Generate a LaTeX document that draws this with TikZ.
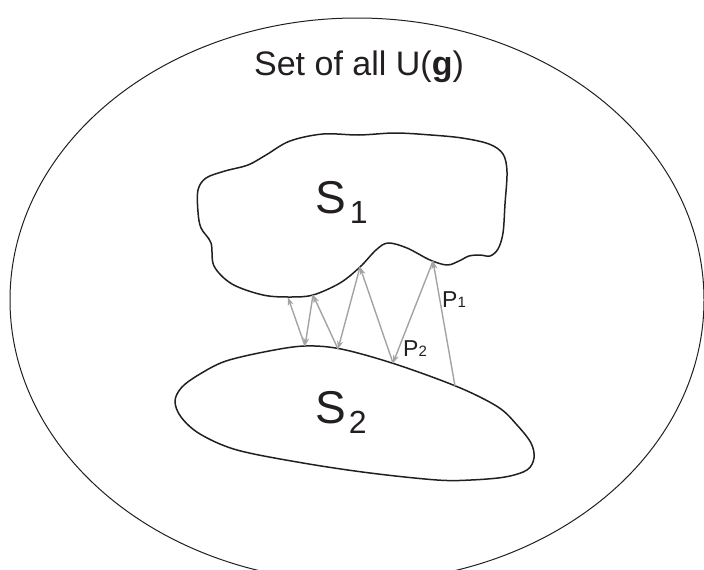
\documentclass[tikz,border=0pt]{standalone}
\usepackage{fontspec}
\setmainfont{Liberation Sans}
\usetikzlibrary{arrows.meta}
\definecolor{ink}{HTML}{231F20}
\definecolor{proj}{HTML}{A3A3A3}
\tikzset{
  outer/.style={draw=ink, line width=1pt},
  blob/.style={draw=ink, line width=1.5pt, line join=round},
  projarrow/.style={draw=proj, line width=1.4pt, -{Stealth[length=8pt,width=6pt,inset=2.5pt]}},
  lbl/.style={inner sep=0pt, text=ink},
}
\begin{document}
\begin{tikzpicture}[x=1pt,y=-1pt]
\useasboundingbox (0,0) rectangle (704,570);
% outer set
\draw[outer] (357,300) ellipse [x radius=347, y radius=282];
\node[lbl, anchor=base] (title) at (359,75) {\fontsize{34}{34}\selectfont Set of all U(\textbf{g})};
% S1 blob
\draw[blob] plot[smooth cycle, tension=0.55] coordinates {
 (198,190) (206,178) (225,171) (248,165) (266,155) (290,141) (323,134) (359,135)
 (395,133) (431,135) (462,138) (489,144) (503,154) (507,172) (505,204) (503,233)
 (498,249) (490,256) (480,255) (469,256) (459,261) (447,265) (430,260) (407,248)
 (388,243) (376,250) (360,267) (340,283) (313,295) (290,297) (263,295) (232,284)
 (214,266) (211,243) (201,228) (198,212)};
% S2 blob
\draw[blob] plot[smooth cycle, tension=0.55] coordinates {
 (175,401) (182,387) (200,374) (226,361) (269,351) (305,346) (341,349) (395,364)
 (458,387) (498,407) (517,425) (531,443) (534,458) (527,470) (505,477) (471,480)
 (437,480) (370,473) (303,463) (237,450) (200,434) (181,417)};
% points on S1 (A) and S2 (B)
\coordinate (A1) at (288,297.5);
\coordinate (A2) at (313,295);
\coordinate (A3) at (360,267);
\coordinate (A4) at (433,261);
\coordinate (B1) at (305,346);
\coordinate (B2) at (338,349);
\coordinate (B3) at (393,363);
\coordinate (B4) at (455,386);
% alternating projections
\draw[projarrow] (B4) -- (A4);
\draw[projarrow] (A4) -- (B3);
\draw[projarrow] (B3) -- (A3);
\draw[projarrow] (A3) -- (B2);
\draw[projarrow] (B2) -- (A2);
\draw[projarrow] (A2) -- (B1);
\draw[projarrow] (B1) -- (A1);
% labels
\node[lbl, anchor=base west] (s1) at (315,213) {\fontsize{46}{46}\selectfont S\kern4pt\raisebox{-10pt}{\fontsize{32}{32}\selectfont 1}};
\node[lbl, anchor=base west] (s2) at (315,423) {\fontsize{46}{46}\selectfont S\kern3pt\raisebox{-10pt}{\fontsize{32}{32}\selectfont 2}};
\node[lbl, anchor=base west] (p1) at (442,307) {\fontsize{23}{23}\selectfont P\raisebox{-0.5pt}{\fontsize{15}{15}\selectfont 1}};
\node[lbl, anchor=base west] (p2) at (403,356) {\fontsize{23}{23}\selectfont P\raisebox{-0.5pt}{\fontsize{15}{15}\selectfont 2}};
\end{tikzpicture}
\end{document}
